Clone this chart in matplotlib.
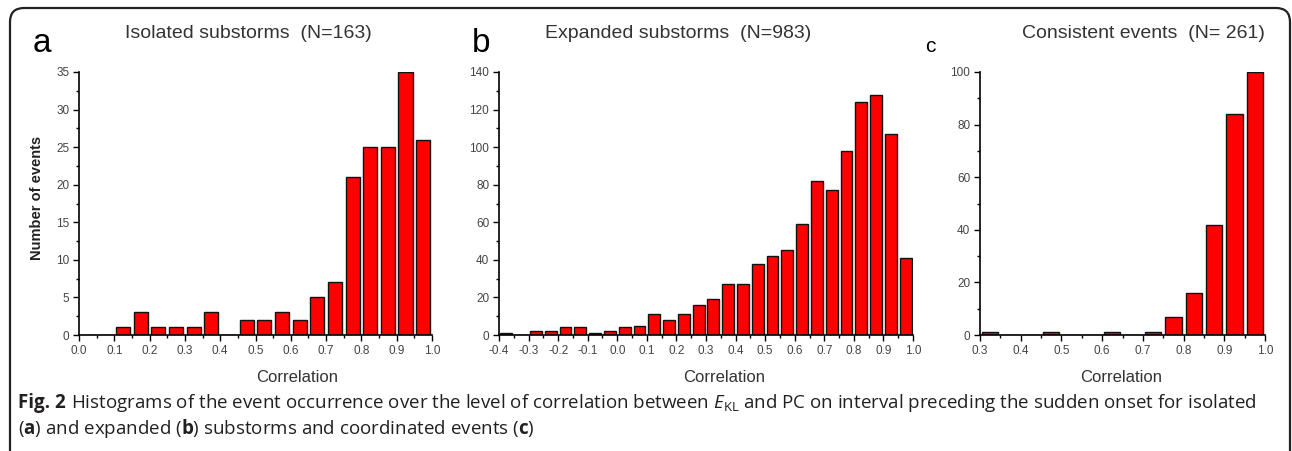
import numpy as np
import matplotlib
matplotlib.use('Agg')
import matplotlib.pyplot as plt
from matplotlib.patches import FancyBboxPatch
from matplotlib.transforms import IdentityTransform
from matplotlib.ticker import MultipleLocator, FormatStrFormatter

plt.rcParams['font.family'] = 'Liberation Sans'
plt.rcParams['axes.unicode_minus'] = False
plt.rcParams['mathtext.fontset'] = 'custom'
plt.rcParams['mathtext.rm'] = 'Open Sans'
plt.rcParams['mathtext.it'] = 'Open Sans:italic'
plt.rcParams['mathtext.bf'] = 'Open Sans:bold'

# histogram counts, bins of 0.05
bin_width = 0.05
a_start = 0.0
a_counts = [0, 0, 1, 3, 1, 1, 1, 3, 0, 2, 2, 3, 2, 5, 7, 21, 25, 25, 35, 26]
b_start = -0.4
b_counts = [1, 0, 2, 2, 4, 4, 1, 2, 4, 5, 11, 8, 11, 16, 19, 27, 27, 38, 42, 45,
            59, 82, 77, 98, 124, 128, 107, 41]
c_start = 0.3
c_counts = [1, 0, 0, 1, 0, 0, 1, 0, 1, 7, 16, 42, 84, 100]

titles = ['Isolated substorms  (N=163)', 'Expanded substorms  (N=983)',
          'Consistent events  (N= 261)']
letters = ['a', 'b', 'c']

W, H = 1292, 451
fig = plt.figure(figsize=(W / 100, H / 100), dpi=100)


def px_axes(left, top, right, bottom):
    return fig.add_axes([left / W, 1 - bottom / H, (right - left) / W, (bottom - top) / H])


def histo(ax, start, counts, xlim, ymax, ymajor):
    centers = start + bin_width * (np.arange(len(counts)) + 0.5)
    ax.bar(centers, counts, width=bin_width * 0.8, color='#ff0000',
           edgecolor='#111111', linewidth=1.0)
    ax.set_xlim(*xlim)
    ax.set_ylim(0, ymax)
    for s in ['top', 'right']:
        ax.spines[s].set_visible(False)
    for s in ['left', 'bottom']:
        ax.spines[s].set_linewidth(1.2)
    ax.xaxis.set_major_locator(MultipleLocator(0.1))
    ax.xaxis.set_minor_locator(MultipleLocator(0.05))
    ax.xaxis.set_major_formatter(FormatStrFormatter('%.1f'))
    ax.yaxis.set_major_locator(MultipleLocator(ymajor))
    ax.yaxis.set_minor_locator(MultipleLocator(ymajor / 2))
    ax.tick_params(which='major', direction='out', length=4, width=1,
                   labelsize=8.5, labelcolor='#444444', pad=3)
    ax.tick_params(which='minor', direction='out', length=2.5, width=1)


ax_a = px_axes(79, 72, 432, 335)
histo(ax_a, a_start, a_counts, (0.0, 1.0), 35, 5)
ax_b = px_axes(499, 72, 913, 335)
histo(ax_b, b_start, b_counts, (-0.4, 1.0), 140, 20)
ax_c = px_axes(980, 72, 1265, 335)
histo(ax_c, c_start, c_counts, (0.3, 1.0), 100, 20)

# titles, panel letters, axis labels in pixel positions
for x, t in zip([248, 678, 1143], titles):
    fig.text(x / W, 1 - 33 / H, t, ha='center', va='center', fontsize=14, color='#333333')
fig.text(42 / W, 1 - 52 / H, 'a', ha='center', va='baseline', fontsize=24)
fig.text(481 / W, 1 - 52 / H, 'b', ha='center', va='baseline', fontsize=24)
fig.text(930 / W, 1 - 52 / H, 'c', ha='center', va='baseline', fontsize=15)

for x in [297, 724, 1121]:
    fig.text(x / W, 1 - 378 / H, 'Correlation', ha='center', va='center',
             fontsize=12, color='#333333')
fig.text(37 / W, 1 - 198 / H, 'Number of events', ha='center', va='center',
         rotation=90, fontsize=10.5, fontweight='bold', color='#222222')

# caption: bold "Fig. 2" then the rest of line 1
cap_kw = dict(va='baseline', fontsize=13.5, family='Open Sans', color='#231f20')
figlab = fig.text(18 / W, 1 - 408 / H, 'Fig. 2', ha='left', fontweight='bold', **cap_kw)
renderer = fig.canvas.get_renderer()
x_end = figlab.get_window_extent(renderer).x1
fig.text((x_end + 5) / W, 1 - 408 / H,
         r'Histograms of the event occurrence over the level of correlation '
         r'between $E_{\mathrm{KL}}$ and PC on interval preceding the sudden onset for isolated',
         ha='left', **cap_kw)
fig.text(18 / W, 1 - 434 / H,
         r'($\mathbf{a}$) and expanded ($\mathbf{b}$) substorms and coordinated events ($\mathbf{c}$)',
         ha='left', **cap_kw)

# outer rounded frame
frame = FancyBboxPatch((10, -30), 1280, H - 8 + 30,
                       boxstyle='round,pad=0,rounding_size=14',
                       transform=IdentityTransform(), facecolor='none',
                       edgecolor='#222222', linewidth=1.6)
fig.add_artist(frame)

fig.savefig('out.png', dpi=100)
